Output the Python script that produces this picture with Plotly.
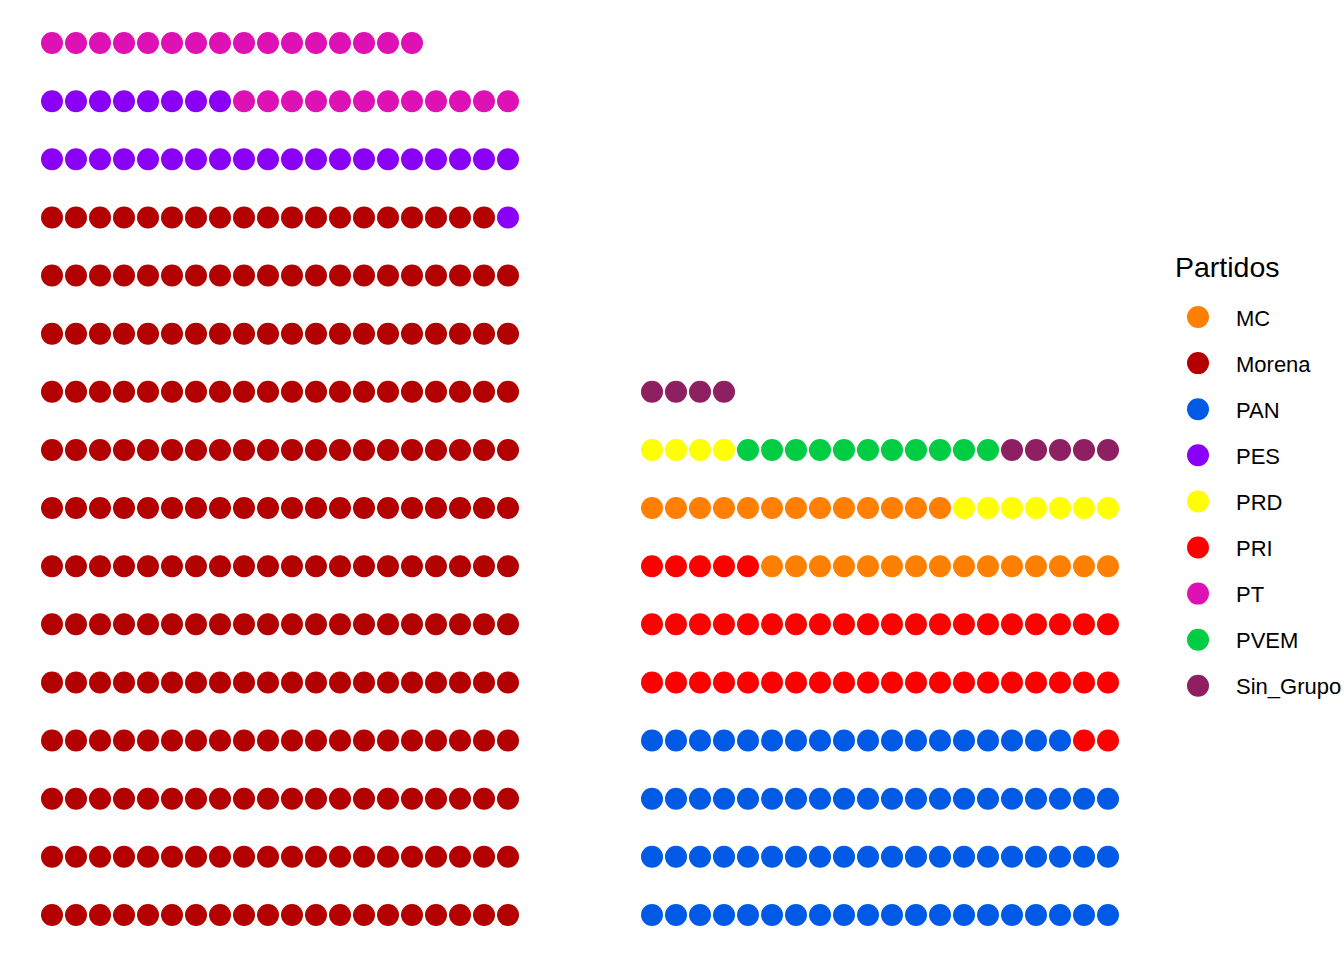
import plotly.graph_objects as go

# Seats per party (Cámara de Diputados, 500 seats)
partidos = ["MC", "Morena", "PAN", "PES", "PRD", "PRI", "PT", "PVEM", "Sin_Grupo"]
escanos = [28, 259, 78, 29, 11, 47, 28, 11, 9]
colores = ["#FF8000", "#B30000", "#005AE6", "#8A00F7", "#FFFF00",
           "#FF0000", "#DE12B4", "#00CC44", "#8E1F60"]
titulo_leyenda = "Partidos"

# Fill order of the two waffle blocks (bottom-left upward, row by row)
bloque_izq = ["Morena", "PES", "PT"]
bloque_der = ["PAN", "PRI", "MC", "PRD", "PVEM", "Sin_Grupo"]
columnas = 20
inicio_der = 25

seats = dict(zip(partidos, escanos))
color_of = dict(zip(partidos, colores))

xs = {p: [] for p in partidos}
ys = {p: [] for p in partidos}
for bloque, x0 in ((bloque_izq, 0), (bloque_der, inicio_der)):
    k = 0
    for p in bloque:
        for _ in range(seats[p]):
            xs[p].append(x0 + k % columnas)
            ys[p].append(k // columnas)
            k += 1

FONT = "Liberation Sans, Arial, sans-serif"
W, H = 1344, 960
ML, MR, MT, MB = 12, 0, 22, 8
plot_w = W - ML - MR
main_w = 1152
split = main_w / plot_w

fig = go.Figure()
for p in partidos:
    fig.add_trace(go.Scatter(
        x=xs[p], y=ys[p], mode="markers", name=p, legendgroup=p,
        showlegend=False,
        marker=dict(color=color_of[p], size=22, line=dict(width=0)),
        xaxis="x", yaxis="y",
    ))

# Legend drawn in its own panel (pixel-like units, y downward)
leg_x_sym, leg_x_txt = 34, 70
leg_y0, leg_dy = 295, 46.1
for i, p in enumerate(partidos):
    fig.add_trace(go.Scatter(
        x=[leg_x_sym], y=[leg_y0 + i * leg_dy], mode="markers", name=p,
        legendgroup=p, showlegend=False, hoverinfo="name",
        marker=dict(color=color_of[p], size=22, line=dict(width=0)),
        xaxis="x2", yaxis="y2",
    ))
    fig.add_annotation(
        x=leg_x_txt, y=leg_y0 + i * leg_dy + 1, xref="x2", yref="y2",
        text=p, showarrow=False, xanchor="left", yanchor="middle",
        font=dict(size=22, family=FONT, color="black"),
    )
fig.add_annotation(
    x=9, y=leg_y0 - 50, xref="x2", yref="y2",
    text=titulo_leyenda, showarrow=False, xanchor="left", yanchor="middle",
    font=dict(size=28.5, family=FONT, color="black"),
)

fig.update_layout(
    width=W, height=H,
    margin=dict(l=ML, r=MR, t=MT, b=MB),
    plot_bgcolor="white", paper_bgcolor="white",
    font=dict(family=FONT, color="black"),
    xaxis=dict(domain=[0, split], range=[-40 / 24, 46.3333],
               visible=False, fixedrange=True),
    yaxis=dict(range=[-0.638, 15.362], visible=False, fixedrange=True),
    xaxis2=dict(domain=[split, 1], range=[0, W - ML - MR - main_w],
                visible=False, fixedrange=True, anchor="y2"),
    yaxis2=dict(domain=[0, 1], range=[H - MT - MB, 0],
                visible=False, fixedrange=True, anchor="x2"),
    showlegend=False,
)

fig.write_html("out.html",
               config={"displayModeBar": False},
               post_script="document.body.style.margin='0';")
